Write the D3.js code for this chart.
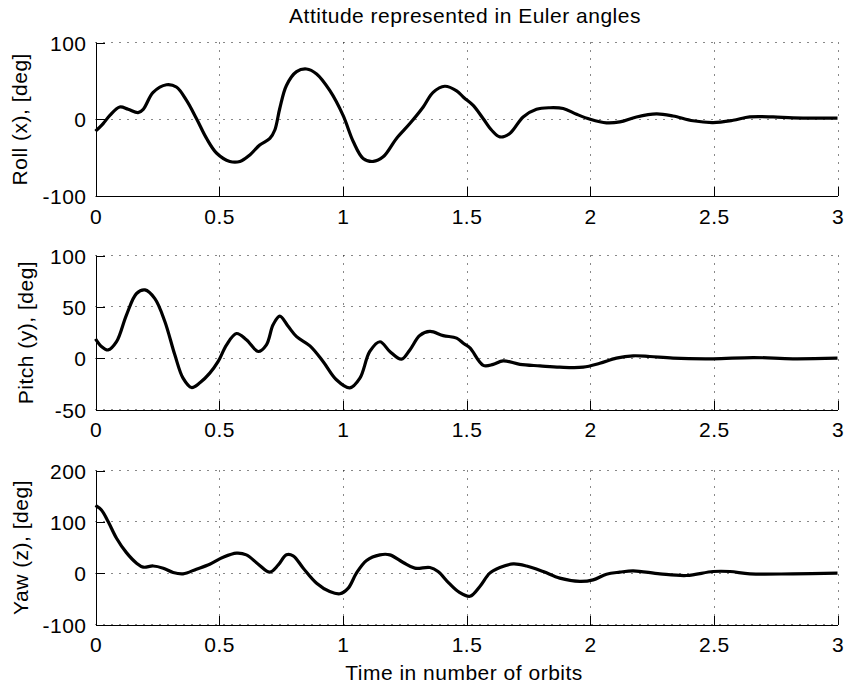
<!DOCTYPE html>
<html>
<head>
<meta charset="utf-8">
<script src="https://cdn.jsdelivr.net/npm/d3@7"></script>
<style>
    body { margin: 0; background: #fff; }
    svg text { font-family: Arial, "Liberation Sans", Helvetica, sans-serif; font-size: 21px; letter-spacing: 0.5px; fill: #000; }
</style>
</head>
<body>
<svg width="846" height="688"></svg>
<script>
// values (time in orbits, angle in deg)
let rollTime = [0, 0.031, 0.058, 0.098, 0.132, 0.172, 0.193, 0.233, 0.287, 0.327, 0.368, 0.408, 0.449, 0.489,
    0.543, 0.584, 0.624, 0.664, 0.705, 0.725, 0.745, 0.772, 0.813, 0.853, 0.894, 0.947, 1.001, 1.042, 1.082,
    1.123, 1.163, 1.217, 1.271, 1.325, 1.365, 1.412, 1.46, 1.49, 1.527, 1.567, 1.601, 1.635, 1.675, 1.729,
    1.783, 1.837, 1.891, 1.945, 2.0, 2.066, 2.12, 2.187, 2.268, 2.335, 2.416, 2.497, 2.578, 2.645, 2.74, 2.82, 3.0];
let roll = [-15.5, -5.6, 5, 16, 13, 8.6, 13, 35, 45, 42, 24.6, 1, -25, -44,
    -55, -55, -46.5, -33.6, -25, -14, 14, 44, 62, 65.5, 59, 37.5, 5, -29, -51,
    -55, -49, -25, -5.6, 16, 35, 43, 37, 28, 18, 1, -14, -23, -18.5, 3,
    13, 15, 14, 6.5, 0, -4.7, -3.4, 3, 7, 4.3, -2, -4.3, -1.3, 3, 3, 1.7, 1.5];

let pitchTime = [0, 0.024, 0.051, 0.085, 0.125, 0.166, 0.2, 0.24, 0.28, 0.321, 0.354, 0.388, 0.422, 0.462,
    0.496, 0.53, 0.57, 0.61, 0.658, 0.691, 0.718, 0.745, 0.779, 0.813, 0.867, 0.92, 0.974, 1.028, 1.069,
    1.109, 1.15, 1.19, 1.237, 1.271, 1.311, 1.352, 1.406, 1.46, 1.49, 1.514, 1.568, 1.608, 1.648, 1.716,
    1.797, 1.877, 1.972, 2.039, 2.106, 2.174, 2.241, 2.335, 2.497, 2.659, 2.82, 3.0];
let pitch = [18.8, 11.4, 8, 16, 42, 63, 66.5, 58, 36, 3, -19.5, -28.6, -24, -14.6,
    -3.2, 13, 24, 18, 6.5, 13, 32.5, 41, 31, 21, 12, -3.2, -21, -29, -19.5,
    6.5, 16, 6.5, -1, 8, 22, 26, 22, 19.5, 14, 10, -7, -6, -2.6, -6,
    -7.5, -8.8, -8.8, -5, 0, 2.3, 1.6, 0, -0.6, 0.6, -0.6, 0];

let yawTime = [0, 0.024, 0.051, 0.085, 0.125, 0.166, 0.193, 0.233, 0.274, 0.314, 0.354, 0.408, 0.462, 0.516,
    0.57, 0.61, 0.658, 0.705, 0.739, 0.772, 0.799, 0.84, 0.894, 0.947, 0.988, 1.022, 1.055, 1.096, 1.15,
    1.19, 1.244, 1.291, 1.352, 1.385, 1.429, 1.47, 1.514, 1.554, 1.594, 1.635, 1.689, 1.743, 1.81, 1.877,
    1.958, 2.012, 2.066, 2.12, 2.174, 2.282, 2.39, 2.497, 2.565, 2.646, 2.82, 3.0];
let yaw = [132, 123, 100.6, 68, 40, 19.5, 11.7, 14, 9.7, 1.3, -1.3, 7.8, 17.5, 31,
    39, 35.7, 17.5, 2, 16, 35.7, 33.8, 9.7, -19.5, -35.7, -40, -29, 0, 24.7, 35.7,
    35.7, 20.8, 9.7, 11, 3.2, -19.5, -37, -45, -26, 0, 11, 18, 14, 3.2, -9.7,
    -16, -13, -2, 2, 4.5, -1.3, -4.5, 3.2, 3.2, -1.3, -1.3, 0];

// ticks and labels
let xTicks = [0, 0.5, 1, 1.5, 2, 2.5, 3];
let xTickLabels = ["0", "0.5", "1", "1.5", "2", "2.5", "3"];
let rollTicks = [-100, 0, 100];
let pitchTicks = [-50, 0, 50, 100];
let yawTicks = [-100, 0, 100, 200];
let yLabels = ["Roll (x), [deg]", "Pitch (y), [deg]", "Yaw (z), [deg]"];
let titleText = "Attitude represented in Euler angles";
let xLabelText = "Time in number of orbits";

const svg = d3.select("svg");

let left = 95.5;
let right = 837.5;
let tickLen = 9;

let panels = [
    {time: rollTime, values: roll, ticks: rollTicks, top: 42.5, bottom: 196, labelX: 27},
    {time: pitchTime, values: pitch, ticks: pitchTicks, top: 255.5, bottom: 409.5, labelX: 33},
    {time: yawTime, values: yaw, ticks: yawTicks, top: 470.5, bottom: 624.5, labelX: 28}
];

let x = d3.scaleLinear().domain([xTicks[0], xTicks[xTicks.length - 1]]).range([left, right]);

panels.forEach((p, k) => {
    let y = d3.scaleLinear()
        .domain([p.ticks[0], p.ticks[p.ticks.length - 1]])
        .range([p.bottom, p.top]);
    let g = svg.append("g");

    // dotted grid
    g.selectAll("line.gx")
            .data(xTicks)
        .enter().append("line")
            .attr("class", "gx")
            .attr("x1", (d) => Math.round(x(d)) + 0.5)
            .attr("x2", (d) => Math.round(x(d)) + 0.5)
            .attr("y1", p.top)
            .attr("y2", p.bottom)
            .attr("stroke", "#111")
            .attr("stroke-dasharray", "1,7");
    g.selectAll("line.gy")
            .data(p.ticks)
        .enter().append("line")
            .attr("class", "gy")
            .attr("x1", left)
            .attr("x2", right)
            .attr("y1", (d) => Math.round(y(d) - 0.5) + 0.5)
            .attr("y2", (d) => Math.round(y(d) - 0.5) + 0.5)
            .attr("stroke", "#111")
            .attr("stroke-dasharray", "1,7");

    // the curve
    let line = d3.line()
        .x((d, i) => x(p.time[i]))
        .y((d) => y(d))
        .curve(d3.curveCatmullRom.alpha(0.5));
    g.append("path")
        .datum(p.values)
        .attr("d", line)
        .attr("fill", "none")
        .attr("stroke", "#000")
        .attr("stroke-width", 3.2)
        .attr("stroke-linejoin", "round");

    // axes, ticks point inwards
    let xAxis = d3.axisBottom(x)
        .tickValues(xTicks)
        .tickFormat((d, i) => xTickLabels[i])
        .tickSizeInner(-tickLen)
        .tickSizeOuter(0)
        .tickPadding(13);
    let yAxis = d3.axisLeft(y)
        .tickValues(p.ticks)
        .tickFormat((d) => String(d))   // plain hyphen, like the original
        .tickSizeInner(-tickLen)
        .tickSizeOuter(0)
        .tickPadding(9);

    let gx = g.append("g")
        .attr("transform", `translate(0,${p.bottom})`)
        .call(xAxis);
    let gy = g.append("g")
        .attr("transform", `translate(${left},0)`)
        .call(yAxis);
    [gx, gy].forEach(a => {
        a.attr("font-size", null).attr("font-family", null);
        a.selectAll("path, line").attr("stroke", "#000").attr("shape-rendering", "crispEdges");
    });
    gy.selectAll("text").attr("dy", "0.36em");

    g.append("text")
        .attr("transform", `translate(${p.labelX},${(p.top + p.bottom) / 2}) rotate(-90)`)
        .attr("text-anchor", "middle")
        .text(yLabels[k]);
});

svg.append("text")
    .attr("x", 465)
    .attr("y", 23)
    .attr("text-anchor", "middle")
    .text(titleText);

svg.append("text")
    .attr("x", 464)
    .attr("y", 680)
    .attr("text-anchor", "middle")
    .text(xLabelText);
</script>
</body>
</html>
